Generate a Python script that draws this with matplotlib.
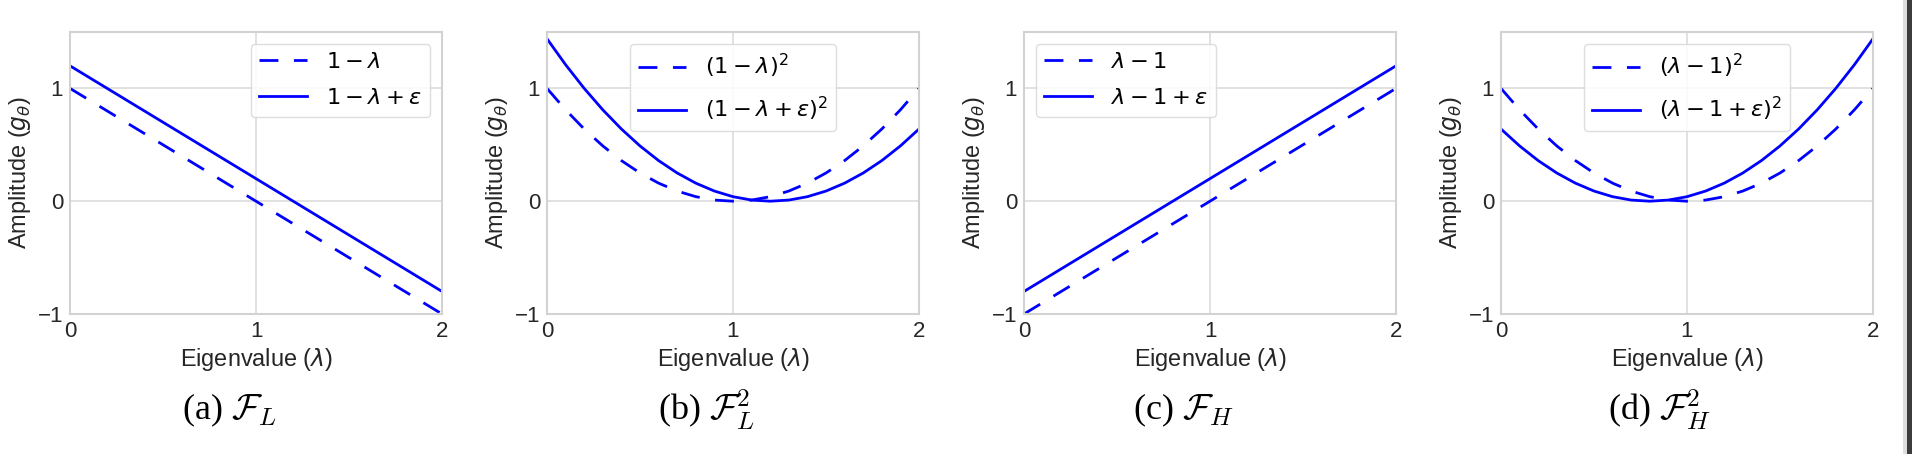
import matplotlib
matplotlib.use("Agg")
import matplotlib.pyplot as plt
from matplotlib.patches import Rectangle

# ---- data ----
lam_line = [0.0, 2.0]
fl_base = [1.0, -1.0]          # 1 - lambda
fl_eps = [1.2, -0.8]           # 1 - lambda + eps
fh_base = [-1.0, 1.0]          # lambda - 1
fh_eps = [-0.8, 1.2]           # lambda - 1 + eps

lam_curve = [0.0, 0.1, 0.2, 0.3, 0.4, 0.5, 0.6, 0.7, 0.8, 0.9, 1.0,
             1.1, 1.2, 1.3, 1.4, 1.5, 1.6, 1.7, 1.8, 1.9, 2.0]
fl2_base = [1.00, 0.81, 0.64, 0.49, 0.36, 0.25, 0.16, 0.09, 0.04, 0.01, 0.00,
            0.01, 0.04, 0.09, 0.16, 0.25, 0.36, 0.49, 0.64, 0.81, 1.00]
fl2_eps = [1.44, 1.21, 1.00, 0.81, 0.64, 0.49, 0.36, 0.25, 0.16, 0.09, 0.04,
           0.01, 0.00, 0.01, 0.04, 0.09, 0.16, 0.25, 0.36, 0.49, 0.64]
fh2_base = [1.00, 0.81, 0.64, 0.49, 0.36, 0.25, 0.16, 0.09, 0.04, 0.01, 0.00,
            0.01, 0.04, 0.09, 0.16, 0.25, 0.36, 0.49, 0.64, 0.81, 1.00]
fh2_eps = [0.64, 0.49, 0.36, 0.25, 0.16, 0.09, 0.04, 0.01, 0.00, 0.01, 0.04,
           0.09, 0.16, 0.25, 0.36, 0.49, 0.64, 0.81, 1.00, 1.21, 1.44]

labels_base = [r"$1-\lambda$", r"$(1-\lambda)^2$", r"$\lambda-1$", r"$(\lambda-1)^2$"]
labels_eps = [r"$1-\lambda+\varepsilon$", r"$(1-\lambda+\varepsilon)^2$",
              r"$\lambda-1+\varepsilon$", r"$(\lambda-1+\varepsilon)^2$"]
captions = [r"(a) $\mathcal{F}_L$", r"(b) $\mathcal{F}_L^2$",
            r"(c) $\mathcal{F}_H$", r"(d) $\mathcal{F}_H^2$"]
legend_locs = ["upper right", "upper center", "upper left", "upper center"]
xticks = [0, 1, 2]
yticks = [-1, 0, 1]

series = [
    (lam_line, fl_base, fl_eps),
    (lam_curve, fl2_base, fl2_eps),
    (lam_line, fh_base, fh_eps),
    (lam_curve, fh2_base, fh2_eps),
]

plt.rcParams['font.family'] = ['Liberation Sans', 'DejaVu Sans']
plt.rcParams['mathtext.fontset'] = 'dejavusans'

W, H = 1912, 454
DPI = 100
fig = plt.figure(figsize=(W / DPI, H / DPI), dpi=DPI)
fig.patch.set_facecolor('white')
renderer = fig.canvas.get_renderer()


def fit_size(txt, target, use_height=False):
    for _ in range(6):
        bb = txt.get_window_extent(renderer)
        cur = bb.height if use_height else bb.width
        if cur <= 0:
            break
        txt.set_fontsize(txt.get_fontsize() * target / cur)
    return txt.get_fontsize()


lefts = [70, 547, 1024, 1501]
ax_w, ax_top, ax_bot = 372, 32, 314
blue = '#0000ff'
grid_c = '#dcdcdc'

# measure sizes once on a scratch text
probe = fig.text(0, 0, r"Eigenvalue ($\lambda$)", fontsize=15)
xl_size = fit_size(probe, 152)
probe.set_text(r"Amplitude ($g_\theta$)")
probe.set_fontsize(15)
yl_size = fit_size(probe, 153)
probe.set_text(labels_eps[0])
probe.set_fontsize(16)
leg_fs = fit_size(probe, 96)
probe.set_text(captions[0])
probe.set_fontsize(24)
probe.set_family(['Liberation Serif'])
probe.set_math_fontfamily('cm')
cap_size = fit_size(probe, 95)
probe.remove()

fs_px = leg_fs * DPI / 72.0

axes = []
for i, (x, yb, ye) in enumerate(series):
    l = lefts[i]
    ax = fig.add_axes([l / W, (H - ax_bot) / H, ax_w / W, (ax_bot - ax_top) / H])
    ax.plot(x, yb, color=blue, lw=2.0, linestyle=(0, (6.8, 5.6)), label=labels_base[i])
    ax.plot(x, ye, color=blue, lw=2.0, label=labels_eps[i])
    ax.set_xlim(0, 2)
    ax.set_ylim(-1, 1.5)
    ax.set_xticks(xticks)
    ax.set_yticks(yticks)
    ax.grid(True, color=grid_c, lw=1.2)
    ax.set_axisbelow(True)
    for sp in ax.spines.values():
        sp.set_color('#d2d2d2')
        sp.set_linewidth(1.5)
    ax.tick_params(length=0, labelsize=16, colors='#262626', pad=5)
    ax.set_xlabel(r"Eigenvalue ($\lambda$)", fontsize=xl_size, color='#262626', labelpad=3)
    ax.set_ylabel(r"Amplitude ($g_\theta$)", fontsize=yl_size, color='#262626', labelpad=3)
    axes.append(ax)
    cx = (l + ax_w / 2 - 27) / W
    fig.text(cx, (H - 410) / H, captions[i], ha='center', va='center', fontsize=cap_size,
             family=['Liberation Serif'], math_fontfamily='cm', color='black')


def make_legend(ax, i, spacing):
    leg = ax.legend(loc=legend_locs[i], fontsize=leg_fs, frameon=True,
                    handlelength=48 / fs_px, handletextpad=19 / fs_px,
                    borderpad=8 / fs_px, borderaxespad=12 / fs_px,
                    labelspacing=spacing, fancybox=True, framealpha=0.85)
    leg.get_frame().set_edgecolor('#d8d8d8')
    leg.get_frame().set_linewidth(1.0)
    return leg


# fit label spacing to the reference legend height (73 px)
spacing = 0.5
for _ in range(5):
    lg = make_legend(axes[0], 0, spacing)
    fig.canvas.draw()
    hcur = lg.get_window_extent(renderer).height
    spacing = max(0.05, spacing + (73.0 - hcur) / fs_px)
for i, ax in enumerate(axes):
    make_legend(ax, i, spacing)

# page edge at right
fig.add_artist(Rectangle((1903 / W, 0), 4 / W, 1, transform=fig.transFigure,
                         color='#dedede', lw=0))
fig.add_artist(Rectangle((1907 / W, 0), 5 / W, 1, transform=fig.transFigure,
                         color='#3c3c3c', lw=0))

fig.savefig("out.png", dpi=DPI)
